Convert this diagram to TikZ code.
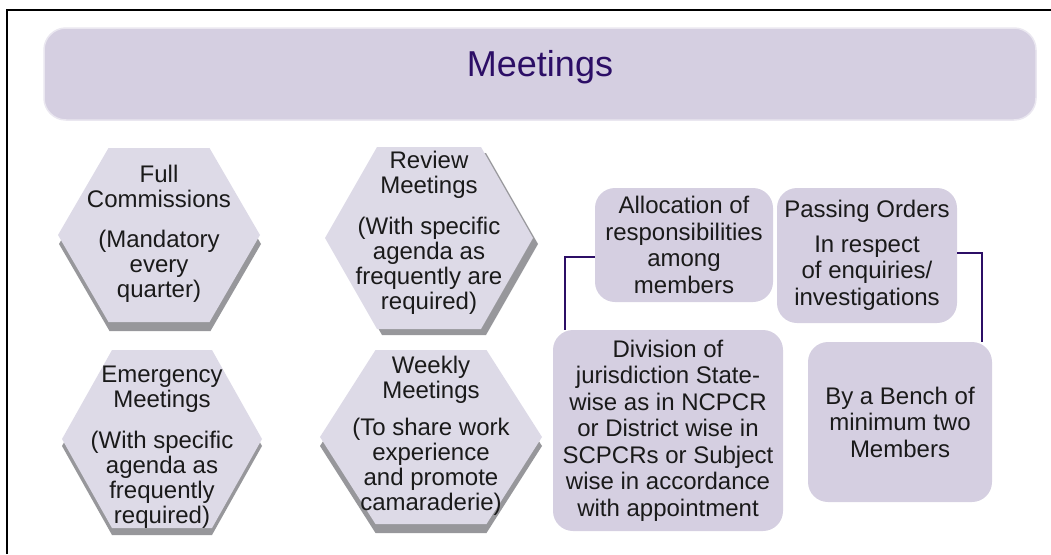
\documentclass[tikz,border=0pt]{standalone}
\usepackage{fontspec}
\setmainfont{Liberation Sans}
\usepackage{tikz}
\usetikzlibrary{positioning,calc}
\definecolor{lavender}{HTML}{D5CFE1}
\definecolor{hexfill}{HTML}{DDDAE7}
\definecolor{hexshade}{HTML}{97979B}
\definecolor{deeppurple}{HTML}{2C0E66}
\definecolor{inkblack}{HTML}{1A1A1A}
% hexagon with its grey drop: centre x, centre y, half width, half height, shadow dx, shadow dy
\newcommand{\hexback}[6]{%
  \fill[hexshade,shift={(#1+#5,#2+#6)}] (-#3,0) -- (-#3/2,-#4) -- (#3/2,-#4) -- (#3,0) -- (#3/2,#4) -- (-#3/2,#4) -- cycle;
  \fill[hexfill,shift={(#1,#2)}] (-#3,0) -- (-#3/2,-#4) -- (#3/2,-#4) -- (#3,0) -- (#3/2,#4) -- (-#3/2,#4) -- cycle;}

\begin{document}
\begin{tikzpicture}[x=1pt,y=-1pt,
  every node/.style={text=inkblack, font=\fontsize{24}{26.5}\selectfont},
  titlebox/.style={fill=lavender, draw=lavender!50!white, line width=1.5pt, rounded corners=22pt,
    minimum width=992pt, minimum height=92pt, text=deeppurple,
    font=\fontsize{36}{40}\selectfont, text height=22pt, text depth=18pt},
  hexlabel/.style={align=center, font=\fontsize{24}{25}\selectfont},
  infobox/.style={fill=lavender, rounded corners=20pt, align=center, inner sep=0pt},
  link/.style={draw=deeppurple, line width=2pt}]
  \useasboundingbox (0,0) rectangle (1051,554);
  \draw[line width=1.2pt] (7,554) -- (7,10) -- (1051,10);

  \node[titlebox] (title) at (540,74) {Meetings};

  % hexagons
  \hexback{159}{235}{101}{87}{1}{9}
  \hexback{162}{439}{100}{89}{0}{7}
  \hexback{429}{238}{104}{91}{5}{6}
  \hexback{431}{437}{111}{87}{0}{9}
  \node[hexlabel] (full) at (159,234) {Full\\Commissions\\[15pt](Mandatory\\every\\quarter)};
  \node[hexlabel] (emergency) at (162,447) {Emergency\\Meetings\\[16pt](With specific\\agenda as\\frequently\\required)};
  \node[hexlabel] (review) at (429,233) {Review\\Meetings\\[16pt](With specific\\agenda as\\frequently are\\required)};
  \node[hexlabel] (weekly) at (431,436) {Weekly\\Meetings\\[12pt](To share work\\experience\\and promote\\camaraderie)};

  % boxes
  \node[infobox, minimum width=178pt, minimum height=114pt] (alloc) at (684,245)
    {Allocation of\\responsibilities\\among\\members};
  \node[infobox, minimum width=180pt, minimum height=135pt] (orders) at (867,255.5)
    {Passing Orders\\[8pt]In respect\\of enquiries/\\investigations};
  \node[infobox, minimum width=230pt, minimum height=201pt] (divide) at (668,430.5)
    {Division of\\jurisdiction State-\\wise as in NCPCR\\or District wise in\\SCPCRs or Subject\\wise in accordance\\with appointment};
  \node[infobox, minimum width=184pt, minimum height=160pt] (bench) at (900,422)
    {By a Bench of\\minimum two\\Members};

  \draw[link] ([yshift=-12pt]alloc.west) -| ([xshift=12pt]divide.north west);
  \draw[link] ([yshift=2.5pt]orders.east) -| ([xshift=-10pt]bench.north east);
\end{tikzpicture}
\end{document}
